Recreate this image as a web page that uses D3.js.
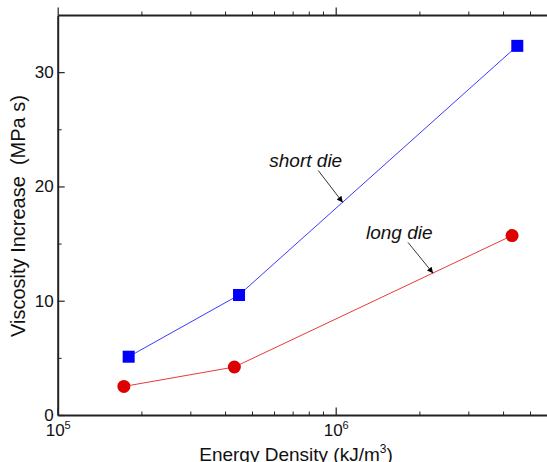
<!DOCTYPE html>
<html>
<head>
<meta charset="utf-8">
<script src="https://cdn.jsdelivr.net/npm/d3@7"></script>
<style>
  body { margin: 0; background: #fff; }
  svg { display: block; font-family: "Liberation Sans", Arial, sans-serif; }
  .axis path, .axis line { stroke: #222; }
</style>
</head>
<body>
<svg id="chart" width="547" height="462"></svg>
<script>
// data
const shortX = [1.80e5, 4.49e5, 4.50e6];
const shortY = [5.1, 10.5, 32.3];
const longX = [1.73e5, 4.32e5, 4.31e6];
const longY = [2.5, 4.2, 15.7];

const yTicks = [0, 10, 20, 30];
const yMinor = [5, 15, 25];
const xMajor = [1e5, 1e6];
const xMinor = [2e5, 3e5, 4e5, 5e5, 6e5, 7e5, 8e5, 9e5, 2e6, 3e6, 4e6, 5e6];

// annotations: [text, textX, textY, arrowFromX, arrowFromY, arrowToX, arrowToY]
const notes = [
  ['short die', 5.77e5, 21.7, 8.65e5, 21.4, 1.06e6, 18.6],
  ['long die', 1.285e6, 15.4, 1.82e6, 15.1, 2.24e6, 12.4]
];

const svg = d3.select('#chart');
const plotLeft = 57.7, plotRight = 550, plotTop = 15, plotBottom = 415;

const x = d3.scaleLog().domain([1e5, 5.9e6]).range([plotLeft, plotRight]);
const y = d3.scaleLinear().domain([0, 35]).range([plotBottom, plotTop]);

// arrow head
svg.append('defs').append('marker')
  .attr('id', 'arrow')
  .attr('viewBox', '0 0 10 10')
  .attr('refX', 10).attr('refY', 5)
  .attr('markerWidth', 9).attr('markerHeight', 6)
  .attr('markerUnits', 'userSpaceOnUse')
  .attr('orient', 'auto')
  .append('path').attr('d', 'M0,0L10,5L0,10z').attr('fill', '#000');

// axes with inward ticks
function xAxis(gen, ty, labels) {
  const inward = ty === plotBottom ? -1 : 1;
  const g = svg.append('g').attr('class', 'axis').attr('transform', `translate(0,${ty})`);
  g.call(gen(x).tickValues(xMinor).tickSizeInner(3.5 * inward).tickSizeOuter(0).tickFormat(''));
  g.select('.domain').attr('stroke-width', 2);
  const gm = svg.append('g').attr('class', 'axis').attr('transform', `translate(0,${ty})`);
  gm.call(gen(x).tickValues(xMajor).tickSizeInner(7.5 * inward).tickSizeOuter(0).tickFormat(''));
  gm.select('.domain').remove();
  gm.selectAll('line').attr('stroke-width', 1.2);
  if (labels) {
    gm.selectAll('.tick text').remove();
    const t = gm.selectAll('.tick').append('text')
      .attr('y', 21).attr('fill', '#111')
      .attr('text-anchor', 'middle')
      .attr('font-size', 17);
    t.append('tspan').text('10');
    t.append('tspan').attr('dy', -7).attr('font-size', 11).text(d => Math.round(Math.log10(d)));
  }
}
xAxis(d3.axisBottom, plotBottom, true);
xAxis(d3.axisTop, plotTop, false);

function yAxis(gen, tx, labels) {
  const inward = tx === plotLeft ? -1 : 1;
  const g = svg.append('g').attr('class', 'axis').attr('transform', `translate(${tx},0)`);
  g.call(gen(y).tickValues(yMinor).tickSizeInner(4 * inward).tickSizeOuter(0).tickFormat(''));
  g.select('.domain').attr('stroke-width', 2);
  const gm = svg.append('g').attr('class', 'axis').attr('transform', `translate(${tx},0)`);
  gm.call(gen(y).tickValues(yTicks).tickSizeInner(7 * inward).tickSizeOuter(0).tickPadding(4)
    .tickFormat(labels ? d3.format('d') : ''));
  gm.select('.domain').remove();
  gm.selectAll('line').attr('stroke-width', 1.2);
  gm.selectAll('text').attr('font-size', 17).attr('fill', '#111').attr('font-family', null);
}
yAxis(d3.axisLeft, plotLeft, true);
yAxis(d3.axisRight, plotRight, false);

// axis titles
const xt = svg.append('text')
  .attr('x', 296).attr('y', 461)
  .attr('text-anchor', 'middle')
  .attr('font-size', 19).attr('fill', '#111');
xt.append('tspan').text('Energy Density (kJ/m');
xt.append('tspan').attr('dy', -8).attr('font-size', 12).text('3');
xt.append('tspan').attr('dy', 8).text(')');

svg.append('text')
  .attr('transform', 'translate(24.5,216) rotate(-90)')
  .attr('text-anchor', 'middle')
  .attr('font-size', 20).attr('fill', '#111')
  .style('white-space', 'pre')
  .text('Viscosity Increase  (MPa s)');

// series
const line = d3.line().x(d => x(d[0])).y(d => y(d[1]));
const shortPts = shortX.map((v, i) => [v, shortY[i]]);
const longPts = longX.map((v, i) => [v, longY[i]]);

svg.append('path').datum(shortPts).attr('d', line)
  .attr('fill', 'none').attr('stroke', '#3b3bff').attr('stroke-width', 1);
svg.append('path').datum(longPts).attr('d', line)
  .attr('fill', 'none').attr('stroke', '#e83a3a').attr('stroke-width', 1);

svg.selectAll('.sq').data(shortPts).enter().append('rect')
  .attr('x', d => x(d[0]) - 6).attr('y', d => y(d[1]) - 6)
  .attr('width', 12).attr('height', 12)
  .attr('fill', '#0000ff');

svg.selectAll('.ci').data(longPts).enter().append('circle')
  .attr('cx', d => x(d[0])).attr('cy', d => y(d[1]))
  .attr('r', 6.5)
  .attr('fill', '#dd0000');

// annotations
notes.forEach(n => {
  svg.append('text')
    .attr('x', x(n[1])).attr('y', y(n[2]))
    .attr('font-size', 19).attr('font-style', 'italic').attr('fill', '#111')
    .text(n[0]);
  svg.append('line')
    .attr('x1', x(n[3])).attr('y1', y(n[4]))
    .attr('x2', x(n[5])).attr('y2', y(n[6]))
    .attr('stroke', '#000').attr('stroke-width', 0.8)
    .attr('marker-end', 'url(#arrow)');
});
</script>
</body>
</html>
